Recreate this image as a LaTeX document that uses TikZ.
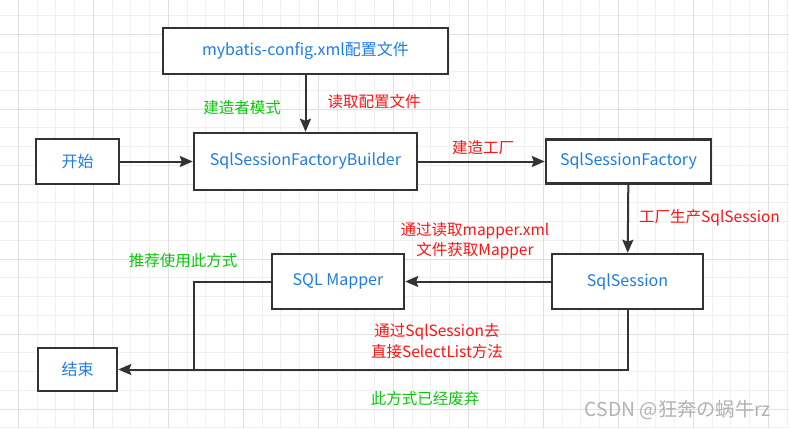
\documentclass[tikz,border=0pt]{standalone}
\usepackage{fontspec}
\setmainfont{Noto Sans CJK SC}
\usetikzlibrary{arrows.meta}

\definecolor{txtblue}{RGB}{30,125,225}
\definecolor{lblred}{RGB}{255,20,20}
\definecolor{lblgreen}{RGB}{10,200,10}
\definecolor{linegray}{RGB}{51,51,51}
\definecolor{gridminor}{RGB}{240,240,240}
\definecolor{gridmajor}{RGB}{224,224,224}

\begin{document}
\begin{tikzpicture}[x=1pt, y=-1pt,
  box_flow/.style={draw=linegray, line width=2.5pt, fill=white, text=txtblue,
    font=\fontsize{16}{19}\selectfont, inner sep=0pt},
  lbl_red/.style={text=lblred, font=\fontsize{15.5}{20.5}\selectfont, align=center, inner sep=0pt},
  lbl_green/.style={text=lblgreen, font=\fontsize{15.5}{20.5}\selectfont, inner sep=0pt},
  flow_arrow/.style={draw=linegray, line width=2pt, -{Stealth[length=13pt,width=11pt,inset=2pt]}},
  flow_line/.style={draw=linegray, line width=2pt}]

% background and grid
\fill[white] (0,0) rectangle (789,428);
\useasboundingbox (0,0) rectangle (789,428);
\foreach \k in {-1,...,41}
  \draw[gridminor, line width=0.8pt] ({18.3+18.75*\k},0) -- ({18.3+18.75*\k},428);
\foreach \k in {-1,...,21}
  \draw[gridminor, line width=0.8pt] (0,{34+18.75*\k}) -- (789,{34+18.75*\k});
\foreach \k in {0,...,10}
  \draw[gridmajor, line width=0.8pt] ({18.3+75*\k},0) -- ({18.3+75*\k},428);
\foreach \k in {0,...,5}
  \draw[gridmajor, line width=0.8pt] (0,{34+75*\k}) -- (789,{34+75*\k});

% boxes
\node[box_flow, minimum width=285, minimum height=46] (config) at (305.5,51) {mybatis-config.xml配置文件};
\node[box_flow, minimum width=83, minimum height=45] (start) at (77.5,161.5) {开始};
\node[box_flow, minimum width=223, minimum height=57] (builder) at (305.5,161.5) {SqlSessionFactoryBuilder};
\node[box_flow, minimum width=165, minimum height=44] (factory) at (628.5,161.5) {SqlSessionFactory};
\node[box_flow, minimum width=151, minimum height=55] (session) at (627.5,281.5) {SqlSession};
\node[box_flow, minimum width=132, minimum height=55] (mapper) at (338,281.5) {SQL Mapper};
\node[box_flow, minimum width=79, minimum height=43] (finish) at (77.5,369.5) {结束};
\coordinate (join) at (194,369.5);

% labels
\node[lbl_green] (l_builder) at (242,108) {建造者模式};
\node[lbl_red] (l_read) at (374,102) {读取配置文件};
\node[lbl_red] (l_make) at (483,148) {建造工厂};
\node[lbl_red, anchor=west] (l_produce) at (639,218) {工厂生产SqlSession};
\node[lbl_red] (l_mapper) at (475,241) {通过读取mapper.xml\\文件获取Mapper};
\node[lbl_green] (l_recommend) at (183,261) {推荐使用此方式};
\node[lbl_red] (l_select) at (437,341) {通过SqlSession去\\直接SelectList方法};
\node[lbl_green] (l_old) at (425,399) {此方式已经废弃};
\node[text=gray!60, font=\fontsize{19.3}{21}\selectfont, inner sep=0pt] (mark) at (678,410) {CSDN @狂奔の蜗牛rz};

% connectors
\draw[flow_arrow] (config) -- (builder);
\draw[flow_arrow] (start) -- (builder);
\draw[flow_arrow] (builder) -- (factory);
\draw[flow_arrow] (factory) -- (session);
\draw[flow_arrow] (session) -- (mapper);
\draw[flow_line] (mapper.west) -| (join);
\draw[flow_arrow] (session.south) |- (finish.east);

\end{tikzpicture}
\end{document}
